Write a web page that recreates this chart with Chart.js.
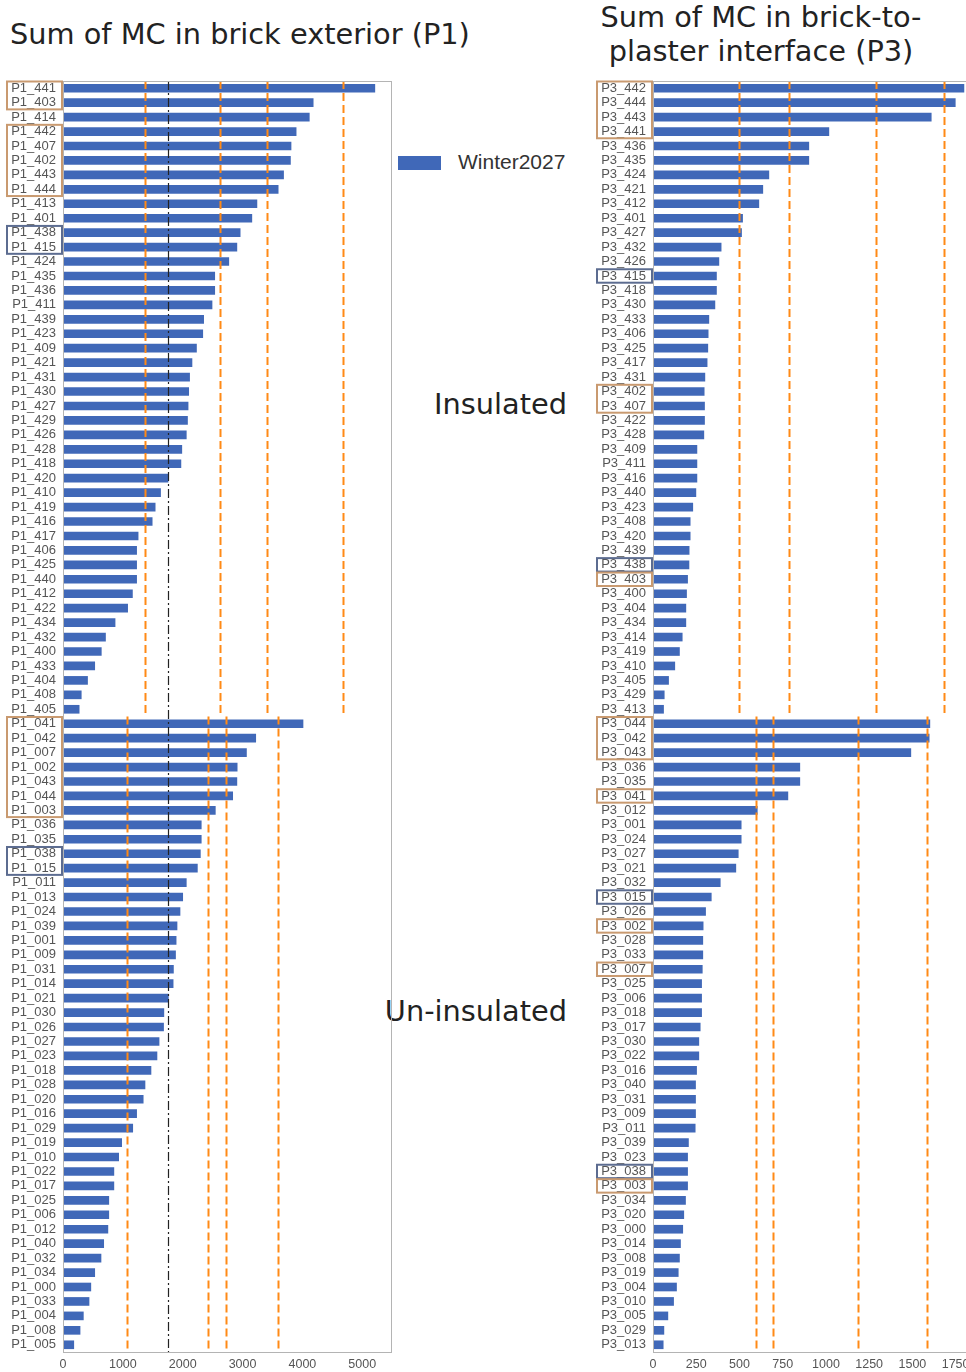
<!DOCTYPE html>
<html>
<head>
<meta charset="utf-8">
<script src="https://cdn.jsdelivr.net/npm/chart.js@4.4.1/dist/chart.umd.min.js"></script>
<style>
  html, body { margin:0; padding:0; background:#fff; overflow:hidden; }
  body { width:966px; height:1372px; position:relative; font-family:"DejaVu Sans", sans-serif; color:#222; }
  .txt { position:absolute; white-space:nowrap; font-size:28.8px; }
  .box { position:absolute; }
</style>
</head>
<body>
<div class="txt" style="left:10px; top:17px;">Sum of MC in brick exterior (P1)</div>
<div class="txt" style="left:590px; top:0px; width:342px; text-align:center; line-height:34px;">Sum of MC in brick-to-<br>plaster interface (P3)</div>
<div class="txt" style="right:399px; top:387px;">Insulated</div>
<div class="txt" style="right:399px; top:994px;">Un-insulated</div>
<div class="box" style="left:398px; top:156px; width:43px; height:14px; background:#4068b8;"></div>
<div class="txt" style="left:458px; top:150px; font-family:'Liberation Sans',Arial,sans-serif; font-size:21px; color:#333;">Winter2027</div>

<div class="box" style="left:0; top:75px;"><canvas id="p1" width="400" height="1297"></canvas></div>
<div class="box" style="left:590px; top:75px;"><canvas id="p3" width="390" height="1297"></canvas></div>

<script>
// P1 brick exterior
const p1InsLabels = ['P1_441','P1_403','P1_414','P1_442','P1_407','P1_402','P1_443','P1_444','P1_413','P1_401','P1_438','P1_415','P1_424','P1_435','P1_436','P1_411','P1_439','P1_423','P1_409','P1_421','P1_431','P1_430','P1_427','P1_429','P1_426','P1_428','P1_418','P1_420','P1_410','P1_419','P1_416','P1_417','P1_406','P1_425','P1_440','P1_412','P1_422','P1_434','P1_432','P1_400','P1_433','P1_404','P1_408','P1_405'];
const p1InsValues = [5210,4180,4115,3895,3810,3800,3685,3595,3240,3155,2960,2905,2770,2535,2535,2490,2350,2335,2230,2155,2115,2100,2090,2080,2060,1985,1970,1755,1630,1540,1490,1255,1230,1230,1230,1160,1080,870,710,640,530,410,305,270];
const p1UninsLabels = ['P1_041','P1_042','P1_007','P1_002','P1_043','P1_044','P1_003','P1_036','P1_035','P1_038','P1_015','P1_011','P1_013','P1_024','P1_039','P1_001','P1_009','P1_031','P1_014','P1_021','P1_030','P1_026','P1_027','P1_023','P1_018','P1_028','P1_020','P1_016','P1_029','P1_019','P1_010','P1_022','P1_017','P1_025','P1_006','P1_012','P1_040','P1_032','P1_034','P1_000','P1_033','P1_004','P1_008','P1_005'];
const p1UninsValues = [4010,3220,3065,2910,2905,2835,2545,2310,2310,2295,2245,2060,2000,1955,1905,1890,1880,1845,1840,1760,1685,1680,1605,1570,1470,1370,1340,1230,1165,980,930,850,850,765,765,750,680,635,530,465,435,340,285,180];
const p1InsLines = [1370, 2620, 3400, 4670];
const p1UninsLines = [1070, 2430, 2730, 3600];
const p1MeanLine = 1760;
const p1Ticks = [0, 1000, 2000, 3000, 4000, 5000];
const p1Boxes = [['P1_441','P1_403','warm'],['P1_442','P1_444','warm'],['P1_438','P1_415','cool'],['P1_041','P1_003','warm'],['P1_038','P1_015','cool']];

// P3 brick-to-plaster interface
const p3InsLabels = ['P3_442','P3_444','P3_443','P3_441','P3_436','P3_435','P3_424','P3_421','P3_412','P3_401','P3_427','P3_432','P3_426','P3_415','P3_418','P3_430','P3_433','P3_406','P3_425','P3_417','P3_431','P3_402','P3_407','P3_422','P3_428','P3_409','P3_411','P3_416','P3_440','P3_423','P3_408','P3_420','P3_439','P3_438','P3_403','P3_400','P3_404','P3_434','P3_414','P3_419','P3_410','P3_405','P3_429','P3_413'];
const p3InsValues = [1798,1748,1609,1017,901,901,670,635,612,518,512,394,381,367,367,358,323,319,317,313,300,296,298,298,294,254,254,254,248,230,215,215,209,208,200,194,190,190,169,153,126,90,65,61];
const p3UninsLabels = ['P3_044','P3_042','P3_043','P3_036','P3_035','P3_041','P3_012','P3_001','P3_024','P3_027','P3_021','P3_032','P3_015','P3_026','P3_002','P3_028','P3_033','P3_007','P3_025','P3_006','P3_018','P3_017','P3_030','P3_022','P3_016','P3_040','P3_031','P3_009','P3_011','P3_039','P3_023','P3_038','P3_003','P3_034','P3_020','P3_000','P3_014','P3_008','P3_019','P3_004','P3_010','P3_005','P3_029','P3_013'];
const p3UninsValues = [1601,1597,1491,849,849,780,603,510,510,493,479,389,337,304,290,288,288,285,281,281,281,273,265,265,252,246,246,246,244,205,200,200,200,188,178,172,159,153,146,136,119,86,63,59];
const p3InsLines = [496, 789, 1291, 1682];
const p3UninsLines = [595, 693, 1187, 1584];
const p3Ticks = [0, 250, 500, 750, 1000, 1250, 1500, 1750];
const p3Boxes = [['P3_442','P3_441','warm'],['P3_415','P3_415','cool'],['P3_402','P3_407','warm'],['P3_438','P3_438','cool'],['P3_403','P3_403','warm'],['P3_044','P3_043','warm'],['P3_041','P3_041','warm'],['P3_015','P3_015','cool'],['P3_002','P3_002','warm'],['P3_007','P3_007','warm'],['P3_038','P3_038','cool'],['P3_003','P3_003','warm']];

const BAR = '#4068b8';
const ORANGE = '#ff8a16';
const BOXCOL = { warm:'#c99a70', cool:'#5c6c90' };

const refLines = {
  id: 'refLines',
  afterDatasetsDraw(chart, args, o) {
    const { ctx, chartArea: a, scales: { x, y } } = chart;
    const split = y.getPixelForValue(o.split - 0.5);
    ctx.save();
    ctx.lineWidth = 2;
    ctx.strokeStyle = ORANGE;
    ctx.setLineDash([8, 4]);
    const seg = (v, y0, y1) => { const px = Math.round(x.getPixelForValue(v)) + 0.5; ctx.beginPath(); ctx.moveTo(px, y0); ctx.lineTo(px, y1); ctx.stroke(); };
    o.top.forEach(v => seg(v, a.top, split));
    o.bottom.forEach(v => seg(v, split, a.bottom));
    if (o.mean != null) {
      ctx.lineWidth = 1.2;
      ctx.strokeStyle = '#222';
      ctx.setLineDash([9, 3, 2, 3]);
      seg(o.mean, a.top, a.bottom);
    }
    ctx.restore();
  }
};

const frameAndBoxes = {
  id: 'frameAndBoxes',
  afterDraw(chart, args, o) {
    const { ctx, chartArea: a, scales: { y } } = chart;
    ctx.save();
    ctx.setLineDash([]);
    ctx.strokeStyle = '#b4b4b4';
    ctx.lineWidth = 1;
    ctx.strokeRect(Math.round(a.left) + 0.5, Math.round(a.top) + 0.5, Math.round(a.right - a.left), Math.round(a.bottom - a.top));
    ctx.lineWidth = 2;
    const labels = chart.data.labels;
    o.boxes.forEach(([from, to, kind]) => {
      const i0 = labels.indexOf(from), i1 = labels.indexOf(to);
      const y0 = y.getPixelForValue(i0 - 0.5), y1 = y.getPixelForValue(i1 + 0.5);
      ctx.strokeStyle = BOXCOL[kind];
      ctx.strokeRect(a.left - 56, y0 + 0.5, 55, y1 - y0 - 1);
    });
    ctx.restore();
  }
};

function makeChart(id, labels, values, opts) {
  return new Chart(document.getElementById(id), {
    type: 'bar',
    data: { labels, datasets: [{ label: 'Winter2027', data: values, backgroundColor: BAR, barThickness: 8 }] },
    plugins: [refLines, frameAndBoxes],
    options: {
      indexAxis: 'y',
      responsive: false,
      animation: false,
      layout: { padding: { top: 6, right: opts.padRight, left: 0, bottom: 0 } },
      plugins: {
        legend: { display: false },
        tooltip: { enabled: false },
        refLines: { split: opts.split, top: opts.top, bottom: opts.bottom, mean: opts.mean },
        frameAndBoxes: { boxes: opts.boxes }
      },
      scales: {
        x: {
          min: 0, max: opts.max,
          afterBuildTicks: s => { s.ticks = opts.ticks.map(v => ({ value: v })); },
          afterFit: s => { s.height = 20; },
          grid: { display: false, drawTicks: false },
          border: { display: false },
          ticks: { color: '#555', padding: 5, font: { family: 'Liberation Sans', size: 12.5 }, maxRotation: 0, callback: v => String(v) }
        },
        y: {
          afterFit: s => { s.width = opts.yWidth; s.paddingTop = 0; s.paddingBottom = 0; },
          grid: { display: false, drawTicks: false },
          border: { display: false },
          ticks: { color: '#555', padding: 7, autoSkip: false, font: { family: 'Liberation Sans', size: 13 } }
        }
      }
    }
  });
}

makeChart('p1', p1InsLabels.concat(p1UninsLabels), p1InsValues.concat(p1UninsValues), {
  max: 5480, ticks: p1Ticks, padRight: 9, yWidth: 63,
  split: p1InsLabels.length, top: p1InsLines, bottom: p1UninsLines, mean: p1MeanLine, boxes: p1Boxes
});
makeChart('p3', p3InsLabels.concat(p3UninsLabels), p3InsValues.concat(p3UninsValues), {
  max: 1810, ticks: p3Ticks, padRight: 14, yWidth: 63,
  split: p3InsLabels.length, top: p3InsLines, bottom: p3UninsLines, mean: null, boxes: p3Boxes
});
</script>
</body>
</html>
